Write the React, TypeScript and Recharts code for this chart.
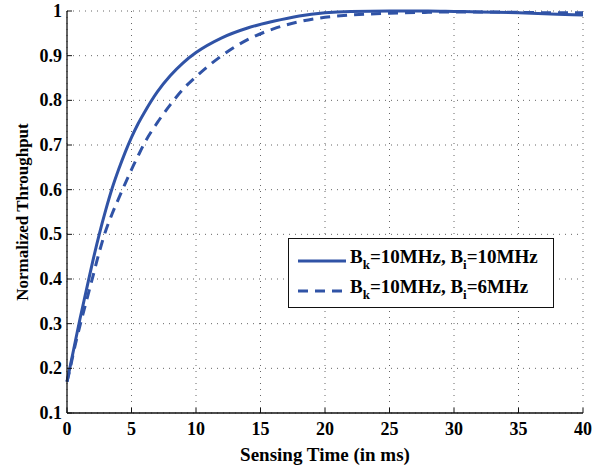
import { LineChart, Line, XAxis, YAxis, CartesianGrid, Label } from 'recharts'

const times = [0, 0.25, 0.5, 1, 1.5, 2, 2.5, 3, 3.5, 4, 4.5, 5, 5.5, 6, 7, 8, 9, 10, 12, 14, 16, 18, 20, 22, 25, 28, 30, 32, 35, 38, 40]
const bi10 = [0.17, 0.205, 0.24, 0.31, 0.375, 0.44, 0.5, 0.554, 0.603, 0.645, 0.683, 0.717, 0.747, 0.773, 0.819, 0.855, 0.884, 0.907, 0.94, 0.962, 0.977, 0.989, 0.996, 0.999, 1.0, 1.0, 0.999, 0.998, 0.996, 0.993, 0.991]
const bi6 = [0.17, 0.2, 0.235, 0.295, 0.35, 0.405, 0.46, 0.508, 0.546, 0.58, 0.613, 0.645, 0.675, 0.704, 0.75, 0.79, 0.825, 0.853, 0.9, 0.936, 0.96, 0.976, 0.986, 0.991, 0.995, 0.997, 0.998, 0.998, 0.997, 0.996, 0.996]
const xTicks = [0, 5, 10, 15, 20, 25, 30, 35, 40]
const yTicks = [0.1, 0.2, 0.3, 0.4, 0.5, 0.6, 0.7, 0.8, 0.9, 1]

const data = times.map((t, i) => ({ t, a: bi10[i], b: bi6[i] }))

const BLUE = '#3053a6'
const FONT = '"Liberation Serif", "Times New Roman", serif'
const textStyle = { fontWeight: 700, fill: '#000', fontFamily: FONT }

function XTick({ x, y, payload }: any) {
  return (
    <text x={x} y={y} dy={14} textAnchor="middle" fontSize={18} style={textStyle}>
      {payload.value}
    </text>
  )
}

function YTick({ x, y, payload }: any) {
  return (
    <text x={x} y={y} dy={6} textAnchor="end" fontSize={18} style={textStyle}>
      {payload.value}
    </text>
  )
}

function LegendRow({ dashed, bi, top }: { dashed: boolean; bi: string; top: number }) {
  return (
    <div style={{ position: 'absolute', left: 9, top, display: 'flex', alignItems: 'center' }}>
      <svg width={48} height={6} style={{ marginRight: 4 }}>
        <line x1={0} y1={3} x2={48} y2={3} stroke={BLUE} strokeWidth={3} strokeDasharray={dashed ? '10 7' : undefined} />
      </svg>
      <span style={{ fontFamily: FONT, fontWeight: 700, fontSize: 19, whiteSpace: 'nowrap', lineHeight: '20px' }}>
        B<sub style={{ fontSize: 13, verticalAlign: '-0.45em' }}>k</sub>=10MHz, B
        <sub style={{ fontSize: 13, verticalAlign: '-0.45em' }}>i</sub>={bi}
      </span>
    </div>
  )
}

export default function App() {
  return (
    <div style={{ position: 'absolute', left: 0, top: 0, width: 603, height: 466, background: '#fff' }}>
      <LineChart width={603} height={466} data={data} margin={{ top: 11, right: 20, bottom: 0, left: 0 }}>
        <CartesianGrid strokeDasharray="1 5" stroke="#666" />
        <XAxis
          dataKey="t"
          type="number"
          domain={[0, 40]}
          ticks={xTicks}
          height={53}
          tick={<XTick />}
          tickSize={-5}
          tickMargin={13}
          axisLine={{ stroke: '#111', strokeWidth: 1.3 }}
          tickLine={{ stroke: '#111' }}
        >
          <Label
            value="Sensing Time (in ms)"
            position="insideBottom"
            offset={5}
            style={{ fontSize: 19, ...textStyle }}
          />
        </XAxis>
        <XAxis
          xAxisId="top"
          orientation="top"
          type="number"
          dataKey="t"
          domain={[0, 40]}
          ticks={xTicks}
          height={0}
          tick={false}
          tickSize={-5}
          axisLine={{ stroke: '#111', strokeWidth: 1.3 }}
          tickLine={{ stroke: '#111' }}
        />
        <YAxis
          type="number"
          domain={[0.1, 1]}
          ticks={yTicks}
          width={67}
          tick={<YTick />}
          tickSize={-5}
          tickMargin={10}
          axisLine={{ stroke: '#111', strokeWidth: 1.3 }}
          tickLine={{ stroke: '#111' }}
        >
          <Label
            content={({ viewBox }: any) => {
              const cx = 22
              const cy = viewBox.y + viewBox.height / 2
              return (
                <text
                  x={cx}
                  y={cy}
                  transform={`rotate(-90 ${cx} ${cy})`}
                  textAnchor="middle"
                  dominantBaseline="central"
                  style={{ fontSize: 17, ...textStyle }}
                >
                  Normalized Throughput
                </text>
              )
            }}
          />
        </YAxis>
        <YAxis
          yAxisId="right"
          orientation="right"
          type="number"
          domain={[0.1, 1]}
          ticks={yTicks}
          width={0}
          tick={false}
          tickSize={-5}
          axisLine={{ stroke: '#111', strokeWidth: 1.3 }}
          tickLine={{ stroke: '#111' }}
        />
        <Line type="monotone" dataKey="a" stroke={BLUE} strokeWidth={3} dot={false} isAnimationActive={false} />
        <Line
          type="monotone"
          dataKey="b"
          stroke={BLUE}
          strokeWidth={3}
          strokeDasharray="10 7"
          dot={false}
          isAnimationActive={false}
        />
      </LineChart>
      <div
        style={{
          position: 'absolute',
          left: 288,
          top: 238,
          width: 264,
          height: 68,
          border: '1.5px solid #111',
          background: '#fff',
        }}
      >
        <LegendRow dashed={false} bi="10MHz" top={8} />
        <LegendRow dashed={true} bi="6MHz" top={38} />
      </div>
    </div>
  )
}
